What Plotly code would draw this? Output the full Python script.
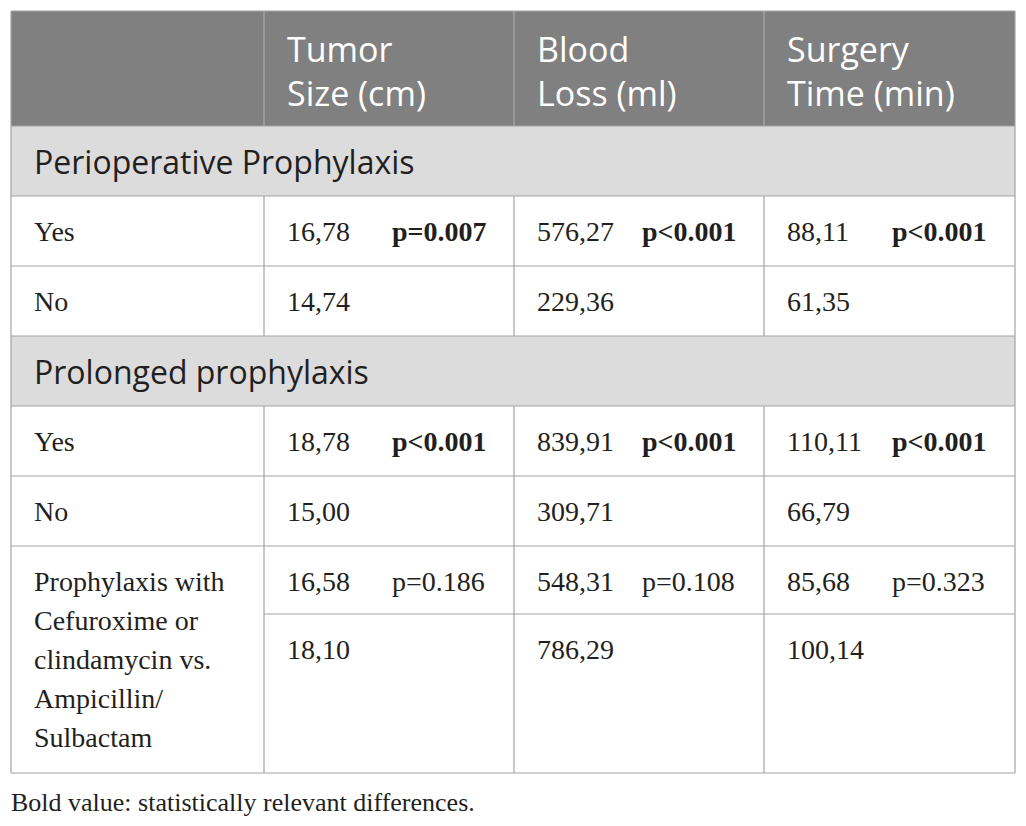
import plotly.graph_objects as go

# Table content
col_headers = ["Tumor<br>Size (cm)", "Blood<br>Loss (ml)", "Surgery<br>Time (min)"]
sections = ["Perioperative Prophylaxis", "Prolonged prophylaxis"]
row_labels = ["Yes", "No", "Yes", "No"]
last_label = ["Prophylaxis with", "Cefuroxime or", "clindamycin vs.", "Ampicillin/", "Sulbactam"]

# values per column: perioperative yes/no, prolonged yes/no, cefuroxime/clinda, ampicillin/sulbactam
tumor_size = [16.78, 14.74, 18.78, 15.00, 16.58, 18.10]
blood_loss = [576.27, 229.36, 839.91, 309.71, 548.31, 786.29]
surgery_time = [88.11, 61.35, 110.11, 66.79, 85.68, 100.14]
values = [tumor_size, blood_loss, surgery_time]

# p-values per comparison (perioperative, prolonged, antibiotic choice)
p_tumor = ["p=0.007", "p<0.001", "p=0.186"]
p_blood = ["p<0.001", "p<0.001", "p=0.108"]
p_surgery = ["p<0.001", "p<0.001", "p=0.323"]
p_values = [p_tumor, p_blood, p_surgery]
p_bold = [True, True, False]

caption = "Bold value: statistically relevant differences."

# ===== geometry (page pixels) =====
W, H = 1026, 826
BODY_M = 8  # default page margin around the plot div
col_x = [11, 264, 514, 764, 1015]
row_y = [11, 126, 196, 266, 336, 406, 476, 546, 614, 773]
PAD = 21
P_OFF = 126
GRID = '#a3a3a3'
HEAD_BG = '#808080'
SEC_BG = '#dcdcdc'
TXT = '#231f20'
SANS = 'Open Sans'
SERIF = 'Liberation Serif'
BODY_SIZE = 28


def fmt(v):
    return f"{v:.2f}".replace('.', ',')


shapes = []
annotations = []


def rect(x0, y0, x1, y1, fill):
    shapes.append(dict(type='rect', xref='x', yref='y', x0=x0, x1=x1, y0=y0, y1=y1,
                       fillcolor=fill, line=dict(width=0), layer='below'))


def line(x0, y0, x1, y1, color=GRID, width=1.2):
    shapes.append(dict(type='line', xref='x', yref='y', x0=x0, x1=x1, y0=y0, y1=y1,
                       line=dict(color=color, width=width)))


def text(x, y, s, size, color=TXT, family=SERIF):
    annotations.append(dict(x=x, y=y, xref='x', yref='y', text=s, showarrow=False,
                            xanchor='left', yanchor='middle', align='left',
                            font=dict(size=size, color=color, family=family)))


# header
rect(col_x[0], row_y[0], col_x[-1], row_y[1], HEAD_BG)
for c, h in enumerate(col_headers):
    text(col_x[c + 1] + PAD, (row_y[0] + row_y[1]) / 2 + 2, h, 34, color='white', family=SANS)
for x in col_x[1:-1]:
    line(x, row_y[0], x, row_y[1], color='#ababab')

# section rows
for s, label in enumerate(sections):
    y0, y1 = row_y[1 + 3 * s], row_y[2 + 3 * s]
    rect(col_x[0], y0, col_x[-1], y1, SEC_BG)
    text(col_x[0] + PAD, (y0 + y1) / 2, label, 32, family=SANS)

# data rows (yes / no under each section)
data_rows = [2, 3, 5, 6]
for i, r in enumerate(data_rows):
    ym = (row_y[r] + row_y[r + 1]) / 2
    text(col_x[0] + PAD, ym, row_labels[i], BODY_SIZE)
    for c in range(3):
        text(col_x[c + 1] + PAD, ym, fmt(values[c][i]), BODY_SIZE)
        if i % 2 == 0:
            comp = i // 2
            p = p_values[c][comp]
            text(col_x[c + 1] + P_OFF, ym, f"<b>{p}</b>" if p_bold[comp] else p, BODY_SIZE)

# last merged row
y_top = row_y[7]
for k, s in enumerate(last_label):
    text(col_x[0] + PAD, y_top + 35 + 39 * k, s, BODY_SIZE)
for c in range(3):
    text(col_x[c + 1] + PAD, y_top + 35, fmt(values[c][4]), BODY_SIZE)
    text(col_x[c + 1] + P_OFF, y_top + 35, p_values[c][2], BODY_SIZE)
    text(col_x[c + 1] + PAD, row_y[8] + 35, fmt(values[c][5]), BODY_SIZE)

# grid lines
for r in range(1, 8):
    line(col_x[0], row_y[r], col_x[-1], row_y[r])
line(col_x[1], row_y[8], col_x[-1], row_y[8])
line(col_x[0], row_y[-1], col_x[-1], row_y[-1])
for s in range(2):
    for x in col_x[1:-1]:
        line(x, row_y[2 + 3 * s], x, row_y[4 + 3 * s])
for x in col_x[1:-1]:
    line(x, row_y[7], x, row_y[-1])
# outer border
line(col_x[0], row_y[0], col_x[-1], row_y[0])
line(col_x[0], row_y[0], col_x[0], row_y[-1])
line(col_x[-1], row_y[0], col_x[-1], row_y[-1])

# caption
text(col_x[0] - 2, 802, caption, 26)

fig = go.Figure()
fig.update_layout(
    width=W - 2 * BODY_M, height=H - 2 * BODY_M,
    margin=dict(l=0, r=0, t=0, b=0),
    paper_bgcolor='white', plot_bgcolor='white',
    xaxis=dict(range=[BODY_M, W - BODY_M], visible=False, fixedrange=True),
    yaxis=dict(range=[H - BODY_M, BODY_M], visible=False, fixedrange=True),
    shapes=shapes,
    annotations=annotations,
    showlegend=False,
)

fig.write_html("out.html")
